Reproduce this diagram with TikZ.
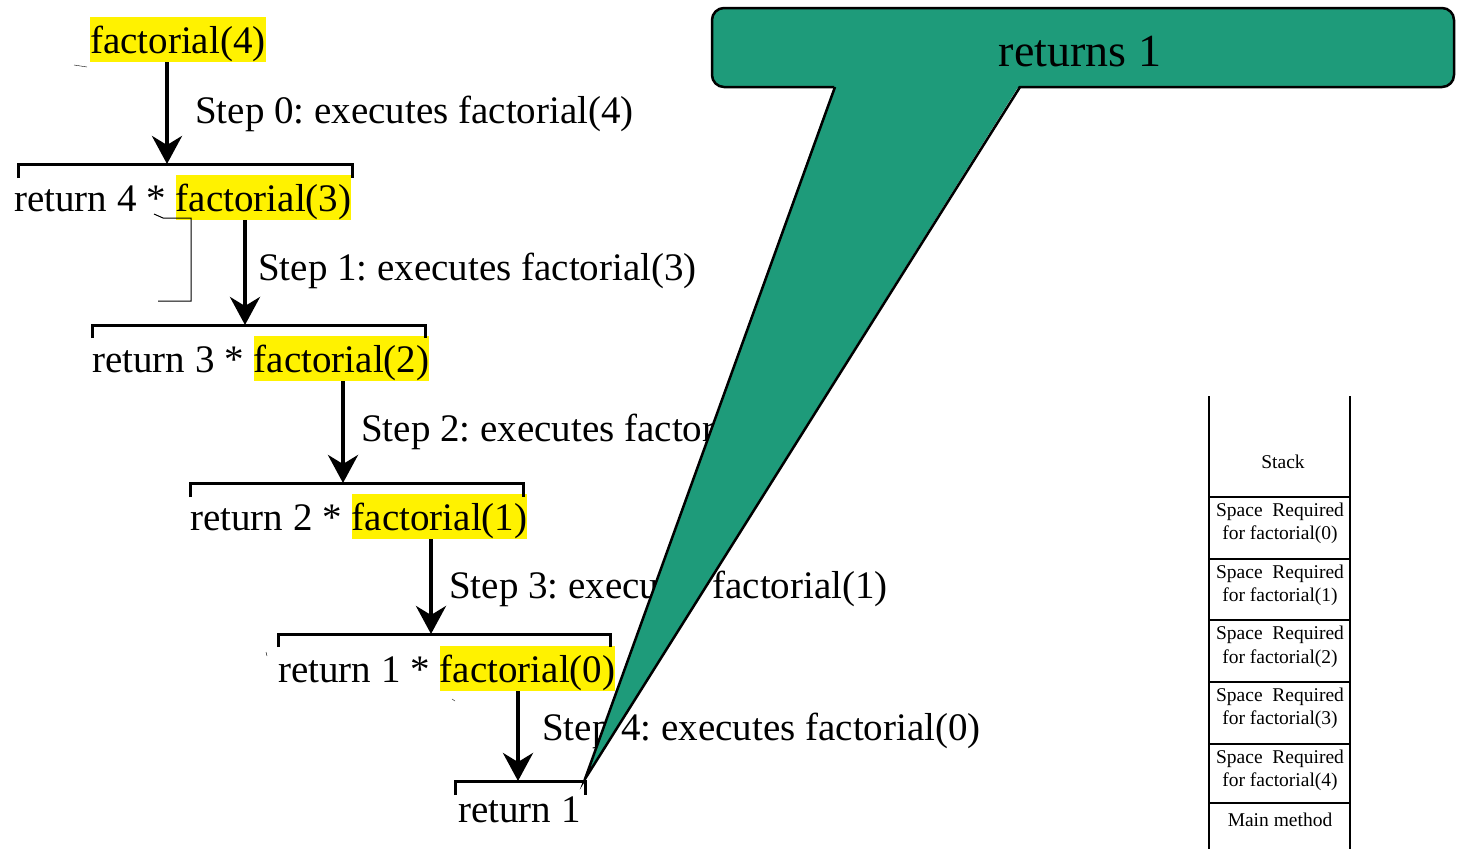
\documentclass[tikz,border=0pt]{standalone}
\usepackage{xcolor}
\usepackage{fontspec}
\setmainfont{Liberation Serif}
\usepackage{tikz}
\usetikzlibrary{arrows.meta,positioning}
\definecolor{calloutgreen}{RGB}{30,155,122}
\frenchspacing

\begin{document}
\begin{tikzpicture}[x=1pt,y=-1pt,
        code/.style={font=\fontsize{39}{47}\selectfont, inner sep=0pt, anchor=base west},
        hl/.style={code, fill=yellow, text height=36pt, text depth=9pt},
        callarrow/.style={line width=4pt, -{Stealth[length=28pt,width=30pt,inset=9pt]}},
        bracket/.style={line width=3pt},
        stacktext/.style={font=\fontsize{19.5}{23.4}\selectfont, align=center, inner sep=0pt}]
        \useasboundingbox (0,0) rectangle (1462,849);

        \node[hl] (f4) at (90,53) {factorial(4)};
        \draw[thin] (74,65) -- (87,67);

        \node[code] (r4) at (14,211) {return 4 *};
        \node[hl, base right=9.75pt of r4] (f3) {factorial(3)};
        \draw[line width=1pt] (154,214) -- (163,218) -- (191,218) -- (191,301) -- (158,301);

        \node[code] (r3) at (92,372) {return 3 *};
        \node[hl, base right=9.75pt of r3] (f2) {factorial(2)};

        \node[code] (r2) at (190,530) {return 2 *};
        \node[hl, base right=9.75pt of r2] (f1) {factorial(1)};

        \node[code] (r1) at (278,682) {return 1 *};
        \node[hl, base right=9.75pt of r1] (f0) {factorial(0)};
        \draw[thin] (266,652) -- (267,656);
        \draw[thin] (452,699) -- (455,701);

        \node[code] (ret1) at (458,822) {return 1};

        \node[code] (s0) at (195,123) {Step 0: executes factorial(4)};
        \node[code] (s1) at (258,280) {Step 1: executes factorial(3)};
        \node[code] (s2) at (361,441) {Step 2: executes factorial(2)};
        \node[code] (s3) at (449,598) {Step 3: executes factorial(1)};
        \node[code] (s4) at (542,740) {Step 4: executes factorial(0)};

        \draw[bracket] (18,178) |- (352,164) -- (352,178);
        \draw[bracket] (92,338) |- (425,325) -- (425,338);
        \draw[bracket] (190,497) |- (523,483) -- (523,497);
        \draw[bracket] (278,647) |- (610,634) -- (610,647);
        \draw[bracket] (455,795) |- (585,781) -- (585,795);

        \coordinate (b0) at (167,164);
        \coordinate (b1) at (245,325);
        \coordinate (b2) at (343,483);
        \coordinate (b3) at (431,634);
        \coordinate (b4) at (518,781);
        \coordinate (tip) at (585,779);

        \draw[callarrow] (f4.south -| b0) -- (b0);
        \draw[callarrow] (f3.south -| b1) -- (b1);
        \draw[callarrow] (f2.south -| b2) -- (b2);
        \draw[callarrow] (f1.south -| b3) -- (b3);
        \draw[callarrow] (f0.south -| b4) -- (b4);

        \draw[line width=2.5pt, fill=calloutgreen, rounded corners=12pt] (712,8) rectangle (1454,87);
        \fill[calloutgreen] (835,84) -- (tip) -- (1020,84) -- cycle;
        \draw[line width=2.5pt] (835,87) -- (tip) -- (1020,87);
        \node[font=\fontsize{46}{55}\selectfont] (ret) at (1080,52) {returns 1};

        \draw[line width=2pt] (1209,396) -- (1209,849) (1350,396) -- (1350,849)
            (1209,497) -- (1350,497) (1209,559) -- (1350,559) (1209,620) -- (1350,620)
            (1209,682) -- (1350,682) (1209,744) -- (1350,744) (1209,803) -- (1350,803);
        \node[stacktext] (stk) at (1283,462) {Stack};
        \node[stacktext] (sp0) at (1280,523.5) {Space\ \ Required\\for factorial(0)};
        \node[stacktext] (sp1) at (1280,585.5) {Space\ \ Required\\for factorial(1)};
        \node[stacktext] (sp2) at (1280,647) {Space\ \ Required\\for factorial(2)};
        \node[stacktext] (sp3) at (1280,708.5) {Space\ \ Required\\for factorial(3)};
        \node[stacktext] (sp4) at (1280,770.5) {Space\ \ Required\\for factorial(4)};
        \node[stacktext] (main) at (1280,820) {Main method};
    \end{tikzpicture}
\end{document}
